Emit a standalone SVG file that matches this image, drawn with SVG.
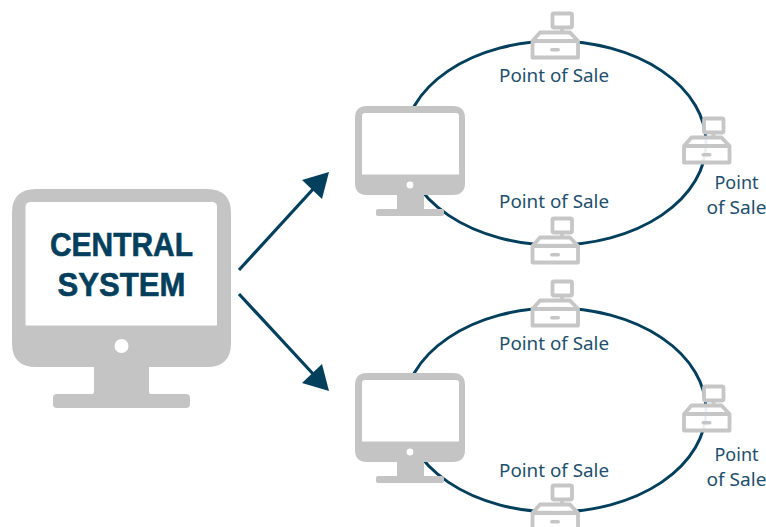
<svg xmlns="http://www.w3.org/2000/svg" width="766" height="527" viewBox="0 0 766 527">
<style>
.ring{fill:none;stroke:#023f5c;stroke-width:3}
.arrow{fill:none;stroke:#023f5c;stroke-width:3.2}
.head{fill:#023f5c}
.mon{fill:#c4c4c4}
.scr{fill:#fff}
.pos{fill:#fff;fill-opacity:.93;stroke:#c6c6c6;stroke-width:3.8;stroke-linejoin:round}
.slot{fill:#c6c6c6}
.lab{font-family:"Noto Sans","Open Sans",sans-serif;font-size:18px;fill:#1d4f6c;text-anchor:middle}
.big{font-family:"Liberation Sans",sans-serif;font-weight:700;font-size:33px;fill:#023f5c;stroke:#023f5c;stroke-width:.6;text-anchor:middle}
</style>
<defs>
<g id="mini">
<path class="mon" d="M367 106H453Q465 106 465 118V183Q465 195 453 195H424V209H442Q444 209 444 211V214Q444 216 442 216H378Q376 216 376 214V211Q376 209 378 209H397V195H367Q355 195 355 183V118Q355 106 367 106Z"/>
<path class="scr" d="M365 113H456Q459 113 459 116V174.500H362V116Q362 113 365 113Z"/>
<circle class="scr" cx="410" cy="185" r="3.4"/>
</g>
<g id="till">
<rect class="pos" x="552.500" y="13.500" width="19.500" height="14" rx="1.500"/>
<path class="pos" fill="none" d="M562 28V32"/>
<path class="pos" d="M540 32.500H570L578 41V57.500H532.500V41Z"/>
<path class="pos" d="M532.500 41H578" fill="none"/>
<rect class="slot" x="550" y="48" width="10" height="3.600" rx="1.800"/>
</g>
</defs>
<g id="connectors">
<ellipse class="ring" cx="555" cy="143" rx="151" ry="102"/>
<ellipse class="ring" cx="555" cy="410" rx="151" ry="102"/>
<path class="arrow" d="M239 270L315 187"/>
<path class="head" d="M329 172L302 180L322 199Z"/>
<path class="arrow" d="M239 294L315 376"/>
<path class="head" d="M329 391L302 383L322 364Z"/>
</g>
<g id="central">
<path class="mon" d="M36 189H207Q231 189 231 213V343Q231 367 207 367H149V392Q149 394 151 394H186Q190 394 190 398V404Q190 408 186 408H57Q53 408 53 404V398Q53 394 57 394H92Q94 394 94 392V367H36Q12 367 12 343V213Q12 189 36 189Z"/>
<path class="scr" d="M31 202H212Q217 202 217 207V325.500H25.500V207Q25.500 202 31 202Z"/>
<text class="big" x="121.500" y="256" textLength="143" lengthAdjust="spacingAndGlyphs">CENTRAL</text>
<text class="big" x="121.500" y="296" textLength="128" lengthAdjust="spacingAndGlyphs">SYSTEM</text>
<circle class="scr" cx="121.500" cy="346" r="7"/>
</g>
<g id="monitor-1"><use href="#mini"/></g>
<g id="monitor-2"><use href="#mini" y="267"/></g>
<g id="pos-1"><use href="#till"/><text class="lab" x="554" y="82" textLength="110" lengthAdjust="spacingAndGlyphs">Point of Sale</text></g>
<g id="pos-2"><use href="#till" x="151.500" y="105"/><text class="lab" x="736.500" y="189">Point</text><text class="lab" x="736.500" y="214" textLength="60" lengthAdjust="spacingAndGlyphs">of Sale</text></g>
<g id="pos-3"><use href="#till" y="205"/><text class="lab" x="554" y="208" textLength="110" lengthAdjust="spacingAndGlyphs">Point of Sale</text></g>
<g id="pos-4"><use href="#till" y="268"/><text class="lab" x="554" y="350" textLength="110" lengthAdjust="spacingAndGlyphs">Point of Sale</text></g>
<g id="pos-5"><use href="#till" x="151.500" y="373"/><text class="lab" x="736.500" y="461">Point</text><text class="lab" x="736.500" y="486" textLength="60" lengthAdjust="spacingAndGlyphs">of Sale</text></g>
<g id="pos-6"><use href="#till" y="472"/><text class="lab" x="554" y="477" textLength="110" lengthAdjust="spacingAndGlyphs">Point of Sale</text></g>
</svg>
